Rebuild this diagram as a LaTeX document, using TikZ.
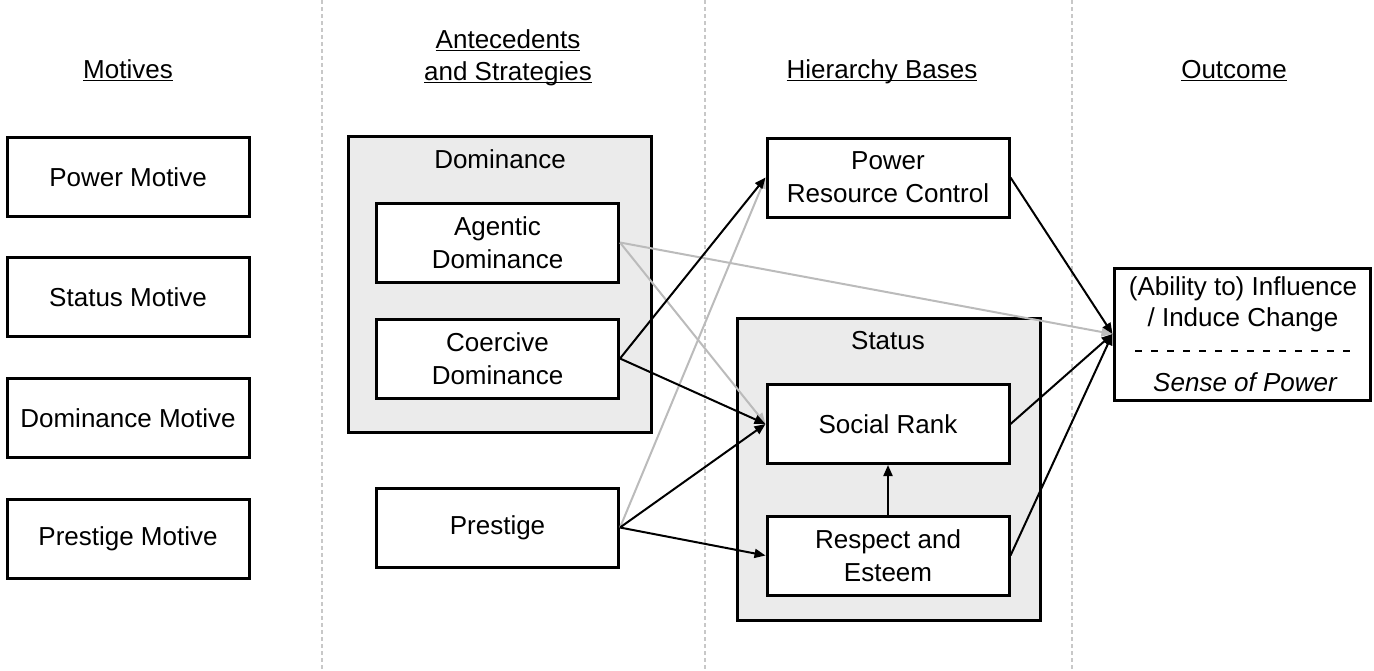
\documentclass[tikz,border=0pt]{standalone}
\usepackage{fontspec}
\setmainfont{Liberation Sans}
\usetikzlibrary{arrows.meta}
\definecolor{panel}{HTML}{EBEBEB}
\definecolor{softline}{HTML}{BBBBBB}
\definecolor{divider}{HTML}{C8C8C8}
% underline ignoring descenders, so every heading rule sits just under the baseline
\newcommand\headrule[1]{\underline{\smash{#1}\vphantom{x}}}
\begin{document}
\begin{tikzpicture}[x=0.5pt,y=-0.5pt,
  font=\fontsize{13}{15.6}\selectfont,
  box/.style={draw,line width=1.5pt,fill=white,inner sep=0pt,align=center,
    minimum width=121pt,minimum height=39.5pt},
  panelbox/.style={draw,line width=1.5pt,fill=panel,inner sep=0pt,
    minimum width=151.5pt},
  heading/.style={inner sep=0pt,anchor=base},
  link/.style={line width=1pt,-{Triangle[length=5.5pt,width=4.5pt]}},
  softlink/.style={link,draw=softline,-{Triangle[length=5.5pt,width=4.5pt,fill=softline]}},
  sep/.style={draw=divider,line width=0.6pt,dash pattern=on 2pt off 1.5pt}]
\useasboundingbox (0,0) rectangle (1374,670);

% column dividers
\draw[sep] (322,0) -- (322,670);
\draw[sep] (705,0) -- (705,670);
\draw[sep] (1072,0) -- (1072,670);

% column headings
\node[heading] (hmot) at (128,78) {\headrule{Motives}};
\node[heading] (hant1) at (508,48) {\headrule{Antecedents}};
\node[heading] (hant2) at (508,80) {\headrule{and Strategies}};
\node[heading] (hhier) at (882,78) {\headrule{Hierarchy Bases}};
\node[heading] (hout) at (1234,78) {\headrule{Outcome}};

% motives
\node[box] (pm) at (128,177) {Power Motive};
\node[box] (sm) at (128,297) {Status Motive};
\node[box] (dm) at (128,418) {Dominance Motive};
\node[box] (prm) at (128,539) {Prestige Motive};

% antecedents and strategies
\node[panelbox,minimum height=148pt] (dom) at (499.5,284) {};
\node[inner sep=0pt] (domt) at (500,159) {Dominance};
\node[box] (agd) at (497.5,242.5) {Agentic\\[1pt]Dominance};
\node[box] (cod) at (497.5,358.5) {Coercive\\[1pt]Dominance};
\node[box] (pre) at (497.5,527.5) {Prestige};

% hierarchy bases
\node[box] (prc) at (888,177.5) {Power\\[1pt]Resource Control};
\node[panelbox,minimum height=151pt] (stat) at (888.5,469) {};
\node[inner sep=0pt] (statt) at (888,341) {Status};
\node[box] (sr) at (888,424) {Social Rank};
\node[box] (re) at (888,555.5) {Respect and\\[1pt]Esteem};

% outcome
\node[draw,line width=1.5pt,fill=white,minimum width=128pt,minimum height=66pt,inner sep=0pt] (out) at (1242,334) {};
\node[inner sep=0pt] (out1) at (1243,289) {(Ability to) Influence};
\node[inner sep=0pt] (out2) at (1243,320) {/ Induce Change};
\coordinate (dl) at (1135,351);
\coordinate (dr) at (1357,351);
\draw[line width=1pt,dash pattern=on 3.5pt off 4.5pt] (dl) -- (dr);
\node[inner sep=0pt] (out3) at (1245,382) {\itshape Sense of Power};

% connectors (grey first, black on top)
\draw[softlink] (agd.east) -- (sr.west);
\draw[softlink] (agd.east) -- (out.west);
\draw[softlink] (pre.east) -- (prc.west);
\draw[link] (cod.east) -- (prc.west);
\draw[link] (cod.east) -- (sr.west);
\draw[link] (pre.east) -- (sr.west);
\draw[link] (pre.east) -- (re.west);
\draw[link] (prc.east) -- (out.west);
\draw[link] (sr.east) -- (out.west);
\draw[link] (re.east) -- (out.west);
\draw[link] (re.north) -- (sr.south);
\end{tikzpicture}
\end{document}
